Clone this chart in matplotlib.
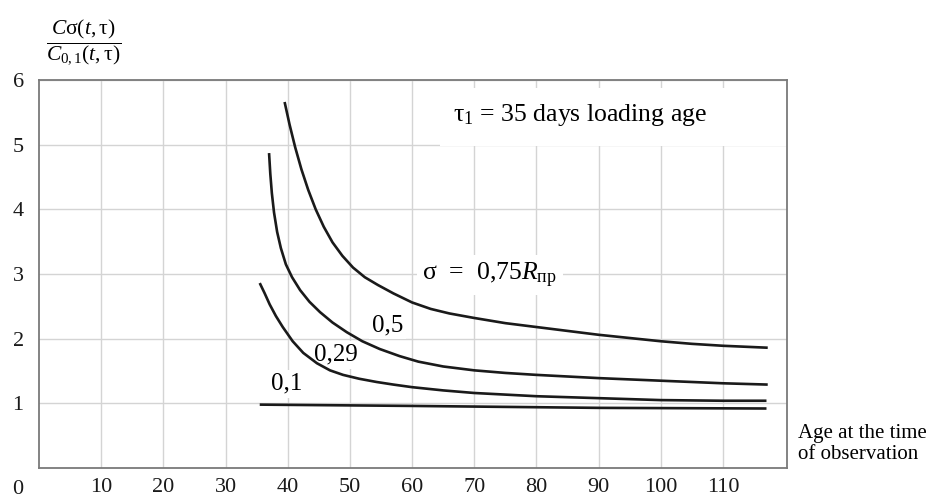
import matplotlib
matplotlib.use("Agg")
import matplotlib.pyplot as plt
from matplotlib.patches import Rectangle

plt.rcParams['font.family'] = ['Liberation Serif', 'DejaVu Serif']
plt.rcParams['mathtext.fontset'] = 'custom'
plt.rcParams['mathtext.rm'] = 'Liberation Serif'
plt.rcParams['mathtext.it'] = 'Liberation Serif:italic'
plt.rcParams['mathtext.bf'] = 'Liberation Serif:bold'

# ---- data ----
x_ticks = [10, 20, 30, 40, 50, 60, 70, 80, 90, 100, 110]
y_ticks = [1, 2, 3, 4, 5, 6]

x_075 = [39.5, 40.3, 41.2, 42.2, 43.3, 44.5, 45.8, 47.2, 48.8, 50.5, 52.4, 54.5, 57.0, 60.0, 63.0,
         66.0, 70.0, 75.0, 80.0, 85.0, 90.0, 95.0, 100.0, 105.0, 110.0, 117.2]
y_075 = [5.66, 5.31, 4.96, 4.62, 4.30, 4.00, 3.73, 3.49, 3.28, 3.10, 2.95, 2.83, 2.70, 2.56, 2.46,
         2.39, 2.32, 2.24, 2.18, 2.12, 2.06, 2.01, 1.96, 1.92, 1.89, 1.86]

x_05 = [37.0, 37.2, 37.45, 37.8, 38.3, 38.9, 39.7, 40.7, 42.0, 43.5, 45.2, 47.2, 49.5, 52.0, 54.8,
        58.0, 61.0, 65.0, 70.0, 75.0, 80.0, 90.0, 100.0, 110.0, 117.2]
y_05 = [4.87, 4.55, 4.25, 3.95, 3.65, 3.40, 3.15, 2.95, 2.75, 2.57, 2.41, 2.25, 2.10, 1.96, 1.84,
        1.73, 1.645, 1.57, 1.51, 1.47, 1.44, 1.39, 1.35, 1.31, 1.29]

x_029 = [35.5, 36.3, 37.1, 38.1, 39.2, 40.8, 42.5, 44.7, 46.8, 48.9, 51.5, 54.3, 57.0, 60.0, 65.0,
         70.0, 80.0, 90.0, 100.0, 110.0, 117.0]
y_029 = [2.86, 2.70, 2.53, 2.35, 2.18, 1.96, 1.78, 1.62, 1.51, 1.44, 1.38, 1.33, 1.29, 1.25, 1.20,
         1.16, 1.11, 1.08, 1.05, 1.04, 1.04]

x_01 = [35.5, 60.0, 90.0, 117.0]
y_01 = [0.98, 0.96, 0.93, 0.92]

curves = [(x_075, y_075), (x_05, y_05), (x_029, y_029), (x_01, y_01)]

# ---- figure ----
W, H = 929, 497
fig = plt.figure(figsize=(W / 100, H / 100), dpi=100)
ax = fig.add_axes([39 / W, 29 / H, 748 / W, 388 / H])
ax.set_xlim(0, 120.3)
ax.set_ylim(0, 6)

ax.set_xticks(x_ticks)
ax.set_xticklabels([str(v) for v in x_ticks])
ax.set_yticks(y_ticks)
ax.set_yticklabels([str(v) for v in y_ticks])
ax.tick_params(axis='both', length=0, labelsize=16, colors='#1a1a1a')
ax.tick_params(axis='y', pad=11)
ax.tick_params(axis='x', pad=7)
ax.grid(True, color='#d4d4d4', linewidth=1.0)
ax.set_axisbelow(True)
for s in ax.spines.values():
    s.set_color('#7a7a7a')
    s.set_linewidth(1.3)

for xs, ys in curves:
    ax.plot(xs, ys, color='#1a1a1a', linewidth=1.9, solid_capstyle='butt',
            solid_joinstyle='round', zorder=3)

# white box behind tau label (hides grid)
ax.add_patch(Rectangle((64.5, 4.98), 55.8, 0.89, facecolor='white', edgecolor='none', zorder=1.5))
ax.text(87.0, 5.46, r'$\mathrm{τ}_{1}$ = 35 days loading age', fontsize=18.5,
        ha='center', va='center', zorder=4)

box = dict(facecolor='white', edgecolor='none', pad=2)
ax.text(72.5, 2.98, r'σ  =  0,75$R_{\mathrm{пр}}$', fontsize=18.5, ha='center', va='center',
        zorder=2, bbox=dict(facecolor='white', edgecolor='none', pad=4))
ax.text(56.0, 2.21, '0,5', fontsize=18, ha='center', va='center', zorder=2, bbox=box)
ax.text(47.8, 1.75, '0,29', fontsize=18, ha='center', va='center', zorder=2, bbox=box)
ax.text(39.9, 1.30, '0,1', fontsize=18, ha='center', va='center', zorder=2, bbox=box)

fig.text(18 / W, 1 - 489 / H, '0', fontsize=16, ha='center', va='center', color='#1a1a1a')
fig.text(84 / W, 1 - 42 / H, r'$\dfrac{C\mathrm{σ}(t,\mathrm{τ})}{C_{0,1}(t,\mathrm{τ})}$',
         fontsize=15.5, ha='center', va='center')
fig.text(798 / W, 1 - 444 / H, 'Age at the time\nof observation', fontsize=15,
         ha='left', va='center', linespacing=1.1)

fig.savefig('out.png', dpi=100)
